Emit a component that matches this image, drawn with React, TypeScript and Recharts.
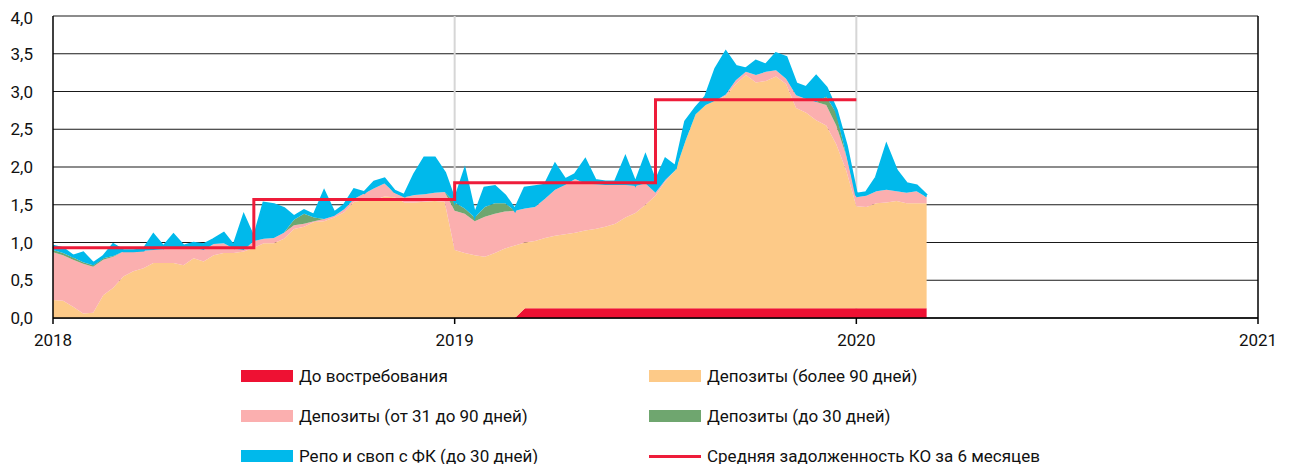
import {
  ComposedChart,
  Area,
  Line,
  XAxis,
  YAxis,
  CartesianGrid,
  ReferenceLine,
} from "recharts";

// weekly-ish sampling, 2018.0 .. 2020.175
const STEP = 0.025;

// трлн руб., по слоям (накопленным снизу вверх)
const demand = [
  0, 0, 0, 0, 0, 0, 0, 0, 0, 0,
  0, 0, 0, 0, 0, 0, 0, 0, 0, 0,
  0, 0, 0, 0, 0, 0, 0, 0, 0, 0,
  0, 0, 0, 0, 0, 0, 0, 0, 0, 0,
  0, 0, 0, 0, 0, 0, 0, 0.13, 0.13, 0.13,
  0.13, 0.13, 0.13, 0.13, 0.13, 0.13, 0.13, 0.13, 0.13, 0.13,
  0.13, 0.13, 0.13, 0.13, 0.13, 0.13, 0.13, 0.13, 0.13, 0.13,
  0.13, 0.13, 0.13, 0.13, 0.13, 0.13, 0.13, 0.13, 0.13, 0.13,
  0.13, 0.13, 0.13, 0.13, 0.13, 0.13, 0.13, 0.13,
];

const depoLong = [
  0.24, 0.23, 0.15, 0.06, 0.07, 0.3, 0.4, 0.55, 0.62, 0.66,
  0.73, 0.73, 0.73, 0.7, 0.79, 0.75, 0.83, 0.86, 0.86, 0.88,
  0.93, 0.99, 0.99, 1.05, 1.18, 1.21, 1.27, 1.28, 1.33, 1.4,
  1.54, 1.56, 1.56, 1.61, 1.6, 1.53, 1.53, 1.54, 1.55, 1.54,
  0.9, 0.86, 0.83, 0.81, 0.86, 0.92, 0.96, 0.87, 0.89, 0.93,
  0.96, 0.98, 1.0, 1.03, 1.05, 1.08, 1.12, 1.2, 1.26, 1.37,
  1.49, 1.68, 1.83, 2.22, 2.57, 2.69, 2.75, 2.81, 2.97, 3.09,
  2.99, 3.01, 3.07, 2.97, 2.65, 2.59, 2.49, 2.42, 2.17, 1.82,
  1.35, 1.34, 1.39, 1.4, 1.42, 1.39, 1.39, 1.39,
];

const depoMid = [
  0.63, 0.6, 0.62, 0.66, 0.61, 0.47, 0.41, 0.33, 0.26, 0.23,
  0.17, 0.18, 0.2, 0.23, 0.14, 0.15, 0.15, 0.13, 0.06, 0.02,
  0.09, 0.06, 0.07, 0.08, 0.05, 0.04, 0.01, 0.03, 0.02, 0.04,
  0.04, 0.09, 0.16, 0.17, 0.06, 0.07, 0.1, 0.1, 0.11, 0.13,
  0.52, 0.52, 0.45, 0.53, 0.52, 0.49, 0.46, 0.45, 0.45, 0.52,
  0.61, 0.65, 0.71, 0.62, 0.59, 0.55, 0.51, 0.43, 0.36, 0.28,
  0.04, 0.02, 0, 0, 0, 0, 0, 0.02, 0.05, 0.04,
  0.1, 0.12, 0.08, 0.07, 0.17, 0.18, 0.24, 0.27, 0.25, 0.2,
  0.12, 0.15, 0.16, 0.17, 0.13, 0.14, 0.16, 0.08,
];

const depoShort = [
  0.03, 0.03, 0.03, 0.02, 0.02, 0.02, 0.01, 0, 0, 0,
  0, 0, 0, 0, 0, 0, 0, 0, 0, 0,
  0, 0, 0, 0, 0.07, 0.13, 0.05, 0, 0, 0,
  0, 0, 0, 0, 0, 0, 0, 0, 0, 0,
  0.11, 0.07, 0.05, 0.13, 0.14, 0.11, 0, 0, 0, 0,
  0, 0, 0, 0, 0, 0, 0, 0, 0, 0,
  0, 0, 0, 0, 0, 0, 0, 0, 0, 0,
  0, 0, 0, 0, 0, 0, 0, 0.11, 0.17, 0,
  0, 0, 0, 0, 0, 0, 0, 0,
];

const repo = [
  0.05, 0.06, 0.02, 0.12, 0.02, 0.02, 0.15, 0.01, 0.01, 0.01,
  0.2, 0.03, 0.17, 0.02, 0.06, 0.07, 0.06, 0.13, 0.03, 0.45,
  0.03, 0.47, 0.44, 0.32, 0.04, 0.04, 0.03, 0.36, 0.04, 0.05,
  0.12, 0.01, 0.08, 0.06, 0.02, 0.02, 0.27, 0.48, 0.46, 0.25,
  0.02, 0.5, 0.03, 0.25, 0.22, 0.1, 0.01, 0.27, 0.27, 0.18,
  0.33, 0.07, 0.06, 0.31, 0.05, 0.04, 0.04, 0.36, 0.03, 0.36,
  0.14, 0.27, 0.04, 0.25, 0.08, 0.11, 0.42, 0.56, 0.18, 0.04,
  0.18, 0.09, 0.22, 0.28, 0.15, 0.15, 0.34, 0.12, 0.03, 0.13,
  0.04, 0.04, 0.18, 0.58, 0.27, 0.12, 0.07, 0.02,
];

// средняя задолженность КО за 6 месяцев
const avgStarts = [2018, 2018.5, 2019, 2019.5];
const avgValues = [0.93, 1.57, 1.79, 2.89];
const AVG_END = 2020;

const yearTicks = [2018, 2019, 2020, 2021];
const yearSeparators = [2019, 2020];
const valueTicks = [0, 0.5, 1, 1.5, 2, 2.5, 3, 3.5, 4];

const C_DEMAND = "#EE1133";
const C_LONG = "#FDCA88";
const C_MID = "#FBAFAF";
const C_SHORT = "#6FA66F";
const C_REPO = "#00B9EB";
const C_AVG = "#EE1C3A";

const legendItems = [
  { label: "До востребования", color: C_DEMAND, line: false },
  { label: "Депозиты (более 90 дней)", color: C_LONG, line: false },
  { label: "Депозиты (от 31 до 90 дней)", color: C_MID, line: false },
  { label: "Депозиты (до 30 дней)", color: C_SHORT, line: false },
  { label: "Репо и своп с ФК (до 30 дней)", color: C_REPO, line: false },
  { label: "Средняя задолженность КО за 6 месяцев", color: C_AVG, line: true },
];

function avgAt(d: number) {
  if (d > AVG_END + 1e-6) return null;
  let v = avgValues[0];
  avgStarts.forEach((s, i) => {
    if (d >= s - 1e-6) v = avgValues[i];
  });
  return v;
}

const rows = demand.map((_, i) => {
  const d = +(2018 + i * STEP).toFixed(3);
  return {
    d,
    demand: demand[i],
    long: depoLong[i],
    mid: depoMid[i],
    short: depoShort[i],
    repo: repo[i],
    avg: avgAt(d),
  };
});

const fmt = (v: number) => v.toFixed(1).replace(".", ",");

export default function App() {
  return (
    <div
      style={{
        position: "relative",
        width: 1275,
        height: 456,
        fontFamily: "Roboto, sans-serif",
      }}
    >
      <ComposedChart
        width={1275}
        height={345}
        data={rows}
        margin={{ top: 8, right: 25, bottom: 0, left: 0 }}
      >
        <CartesianGrid vertical={false} stroke="#000" strokeOpacity={0.9} />
        <CartesianGrid
          horizontal={false}
          verticalValues={yearSeparators}
          stroke="#d6d6d6"
          strokeWidth={2}
        />
        <ReferenceLine x={2021} stroke="#000" strokeWidth={1.5} />
        <XAxis
          dataKey="d"
          type="number"
          domain={[2018, 2021]}
          ticks={yearTicks}
          height={35}
          tickSize={6}
          tickMargin={10}
          tick={{ fontSize: 17, fill: "#111" }}
          axisLine={{ stroke: "#000", strokeWidth: 1.5 }}
          tickLine={{ stroke: "#000", strokeWidth: 1.5 }}
        />
        <YAxis
          domain={[0, 4]}
          ticks={valueTicks}
          tickFormatter={fmt}
          width={45}
          tickLine={false}
          tickSize={0}
          tickMargin={20}
          tick={{ fontSize: 17, fill: "#111" }}
          axisLine={{ stroke: "#000", strokeWidth: 1.5 }}
        />
        <Area
          type="linear"
          dataKey="demand"
          stackId="s"
          fill={C_DEMAND}
          fillOpacity={1}
          stroke="none"
          isAnimationActive={false}
        />
        <Area
          type="linear"
          dataKey="long"
          stackId="s"
          fill={C_LONG}
          fillOpacity={1}
          stroke="none"
          isAnimationActive={false}
        />
        <Area
          type="linear"
          dataKey="mid"
          stackId="s"
          fill={C_MID}
          fillOpacity={1}
          stroke="none"
          isAnimationActive={false}
        />
        <Area
          type="linear"
          dataKey="short"
          stackId="s"
          fill={C_SHORT}
          fillOpacity={1}
          stroke="none"
          isAnimationActive={false}
        />
        <Area
          type="linear"
          dataKey="repo"
          stackId="s"
          fill={C_REPO}
          fillOpacity={1}
          stroke={C_REPO}
          strokeWidth={3}
          isAnimationActive={false}
        />
        <Line
          type="stepAfter"
          dataKey="avg"
          stroke={C_AVG}
          strokeWidth={3}
          dot={false}
          activeDot={false}
          isAnimationActive={false}
        />
      </ComposedChart>
      {legendItems.map((it, i) => {
        const col = i % 2;
        const row = Math.floor(i / 2);
        return (
          <div
            key={it.label}
            style={{
              position: "absolute",
              left: col === 0 ? 233 : 641,
              top: 356 + row * 40,
              height: 24,
              display: "flex",
              alignItems: "center",
              fontSize: 17,
              color: "#111",
              whiteSpace: "nowrap",
            }}
          >
            <span
              style={{
                display: "inline-block",
                width: 52,
                height: it.line ? 3 : 12,
                background: it.color,
                marginRight: 6,
              }}
            />
            {it.label}
          </div>
        );
      })}
    </div>
  );
}
